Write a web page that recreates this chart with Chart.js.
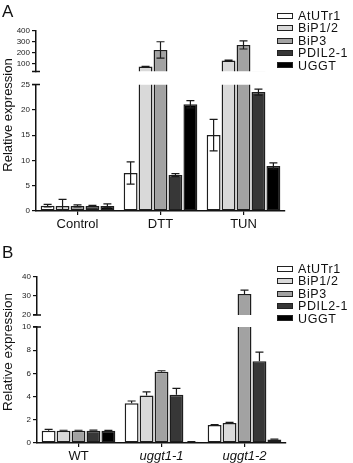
<!DOCTYPE html>
<html lang="en">
<head>
<meta charset="UTF-8">
<title>Relative expression</title>
<script src="https://cdn.jsdelivr.net/npm/chart.js"></script>
<style>
  body { margin: 0; background: #fff; font-family: "Liberation Sans", Arial, sans-serif; color: #111; }
  #page { position: relative; width: 353px; height: 463px; overflow: hidden; }
  .panel { position: absolute; left: 0; width: 353px; }
  .tag { position: absolute; left: 2px; font-size: 17px; line-height: 17px; }
  .ytitle { position: absolute; left: 7px; white-space: nowrap; font-size: 13px; transform: translate(-50%, -50%) rotate(-90deg); }
  .legend { position: absolute; left: 277px; top: 0; font-size: 12.5px; letter-spacing: 0.6px; }
  .legend div { position: absolute; left: 0; height: 12px; line-height: 12px; white-space: nowrap; }
  .legend span { display: inline-block; width: 14px; height: 4px; border: 1px solid #222; vertical-align: middle; margin: -2px 5px 0 0; }
</style>
</head>
<body>
<div id="page">
  <div class="panel" id="panelA" style="top:0; height:231px;">
    <canvas id="chartA" width="353" height="231"></canvas>
    <div class="tag" style="top:3px;">A</div>
    <div class="ytitle" style="top:115px;">Relative expression</div>
    <div class="legend" id="legendA"></div>
  </div>
  <div class="panel" id="panelB" style="top:240px; height:223px;">
    <canvas id="chartB" width="353" height="223"></canvas>
    <div class="tag" style="top:4px;">B</div>
    <div class="ytitle" style="top:112px; font-size:13.5px;">Relative expression</div>
    <div class="legend" id="legendB"></div>
  </div>
</div>
<script>
    const seriesNames = ['AtUTr1', 'BiP1/2', 'BiP3', 'PDIL2-1', 'UGGT'];
    const seriesColors = ['#ffffff', '#d9d9d9', '#a2a2a2', '#373737', '#000000'];

    // panel A: stress treatments
    const treatmentsA = ['Control', 'DTT', 'TUN'];
    const atutr1A = [1.05, 7.5, 15.0];
    const bip12A = [1.0, 70, 125];
    const bip3A = [1.0, 222, 268];
    const pdilA = [1.0, 7.1, 23.5];
    const uggtA = [1.0, 21.1, 8.9];
    const atutr1ErrA = [0.25, 2.2, 3.1];
    const bip12ErrA = [1.3, 3, 5];
    const bip3ErrA = [0.2, 75, 37];
    const pdilErrA = [0.1, 0.3, 0.6];
    const uggtErrA = [0.4, 0.7, 0.6];
    const lowTicksA = [0, 5, 10, 15, 20, 25];
    const highTicksA = [100, 200, 300, 400];

    // panel B: lines
    const linesB = ['WT', 'uggt1-1', 'uggt1-2'];
    const atutr1B = [1.05, 3.42, 1.55];
    const bip12B = [1.05, 4.1, 1.72];
    const bip3B = [1.05, 6.15, 31];
    const pdilB = [1.05, 4.16, 7.04];
    const uggtB = [1.05, 0.1, 0.3];
    const atutr1ErrB = [0.12, 0.2, 0.04];
    const bip12ErrB = [0.05, 0.3, 0.05];
    const bip3ErrB = [0.05, 0.08, 2.1];
    const pdilErrB = [0.06, 0.55, 0.8];
    const uggtErrB = [0.03, 0.02, 0.04];
    const lowTicksB = [0, 2, 4, 6, 8, 10];
    const highTicksB = [20, 30, 40];

    Chart.defaults.font.family = '"Liberation Sans", Arial, sans-serif';
    Chart.defaults.color = '#111';

    // clips every dataset to its own y segment, draws error bars and the axis break marks
    const brokenAxis = {
        id: 'brokenAxis',
        beforeDatasetDraw(chart, args) {
            const { ctx, chartArea } = chart;
            const ys = args.meta.yScale;
            ctx.save();
            ctx.beginPath();
            ctx.rect(chartArea.left, ys.top, chartArea.right - chartArea.left, ys.bottom - ys.top);
            ctx.clip();
        },
        afterDatasetDraw(chart, args, opts) {
            const ctx = chart.ctx;
            const ds = chart.data.datasets[args.index];
            const ys = args.meta.yScale;
            ctx.strokeStyle = '#1a1a1a';
            ctx.lineWidth = 1.2;
            args.meta.data.forEach((bar, j) => {
                const v = ds.data[j], e = ds.errors[j];
                if (v < ys.min || v > ys.max) return; // bar top is in the other segment
                const top = ys.getPixelForValue(v + e);
                const bot = ys.getPixelForValue(opts.upOnly ? v : v - e);
                ctx.beginPath();
                ctx.moveTo(bar.x, top); ctx.lineTo(bar.x, bot);
                ctx.moveTo(bar.x - 4, top); ctx.lineTo(bar.x + 4, top);
                if (!opts.upOnly) { ctx.moveTo(bar.x - 4, bot); ctx.lineTo(bar.x + 4, bot); }
                ctx.stroke();
            });
            ctx.restore();
        },
        afterDraw(chart) {
            const ctx = chart.ctx;
            const hi = chart.scales.yHigh, lo = chart.scales.yLow;
            ctx.save();
            ctx.strokeStyle = '#111';
            ctx.lineWidth = 1.5;
            ctx.beginPath();
            ctx.moveTo(hi.right - 4, hi.bottom); ctx.lineTo(hi.right + 4, hi.bottom);
            ctx.moveTo(lo.right - 4, lo.top); ctx.lineTo(lo.right + 4, lo.top);
            ctx.stroke();
            ctx.restore();
        }
    };

    function yAxis(weight, stackWeight, min, max, tickValues, width) {
        return {
            type: 'linear', position: 'left', stack: 'y', weight: weight, stackWeight: stackWeight,
            min: min, max: max, stacked: false,
            afterBuildTicks: s => { s.ticks = tickValues.map(v => ({ value: v })); },
            afterFit: s => { s.width = width; },
            ticks: { font: { size: 8 }, color: '#222', padding: 2, autoSkip: false },
            grid: { drawOnChartArea: false, tickLength: 4, color: '#111', lineWidth: 1.2 },
            border: { color: '#111', width: 1.5 }
        };
    }

    function makeChart(id, labels, values, errors, cfg) {
        const datasets = [];
        seriesNames.forEach((name, i) => {
            ['yLow', 'yHigh'].forEach(axis => {
                datasets.push({
                    label: name, data: values[i], errors: errors[i], yAxisID: axis, stack: name,
                    backgroundColor: seriesColors[i], borderColor: '#1e1e1e', borderWidth: 1.5,
                    borderSkipped: false, categoryPercentage: 0.9, barPercentage: 0.93
                });
            });
        });
        return new Chart(document.getElementById(id), {
            type: 'bar',
            data: { labels: labels, datasets: datasets },
            options: {
                responsive: false,
                animation: false,
                layout: { padding: { top: cfg.top, right: cfg.right, left: 0, bottom: 0 } },
                plugins: {
                    legend: { display: false },
                    tooltip: { enabled: false },
                    brokenAxis: { upOnly: cfg.upOnly }
                },
                scales: {
                    x: {
                        afterFit: s => { s.height = cfg.xHeight; },
                        ticks: { font: cfg.xFont, color: '#111', padding: 2, maxRotation: 0 },
                        grid: { offset: false, drawOnChartArea: false, tickLength: 4, color: '#111', lineWidth: 1.2 },
                        border: { color: '#111', width: 1.5 }
                    },
                    yLow: yAxis(0, cfg.weights[2], 0, cfg.lowMax, cfg.lowTicks, cfg.yWidth),
                    gap: { type: 'linear', position: 'left', stack: 'y', weight: 1, stackWeight: cfg.weights[1], display: false },
                    yHigh: yAxis(2, cfg.weights[0], cfg.highMin, cfg.highMax, cfg.highTicks, cfg.yWidth)
                }
            },
            plugins: [brokenAxis]
        });
    }

    function buildLegend(id, top, step) {
        const el = document.getElementById(id);
        seriesNames.forEach((name, i) => {
            const row = document.createElement('div');
            row.style.top = (top + i * step - 6) + 'px';
            row.innerHTML = '<span style="background:' + seriesColors[i] + '"></span>' + name;
            el.appendChild(row);
        });
    }

    makeChart('chartA', treatmentsA,
        [atutr1A, bip12A, bip3A, pdilA, uggtA],
        [atutr1ErrA, bip12ErrA, bip3ErrA, pdilErrA, uggtErrA],
        { top: 30.5, right: 68, xHeight: 20, yWidth: 36, weights: [41, 13, 126.5],
          lowMax: 25, highMin: 25, highMax: 400, lowTicks: lowTicksA, highTicks: highTicksA,
          upOnly: false, xFont: { size: 13 } });

    makeChart('chartB', linesB,
        [atutr1B, bip12B, bip3B, pdilB, uggtB],
        [atutr1ErrB, bip12ErrB, bip3ErrB, pdilErrB, uggtErrB],
        { top: 37, right: 67, xHeight: 20, yWidth: 37, weights: [38, 12, 116],
          lowMax: 10, highMin: 20, highMax: 40, lowTicks: lowTicksB, highTicks: highTicksB,
          upOnly: true, xFont: ctx => ({ size: 13, style: ctx.index > 0 ? 'italic' : 'normal' }) });

    buildLegend('legendA', 16, 12.4);
    buildLegend('legendB', 29, 12.4);
</script>
</body>
</html>
